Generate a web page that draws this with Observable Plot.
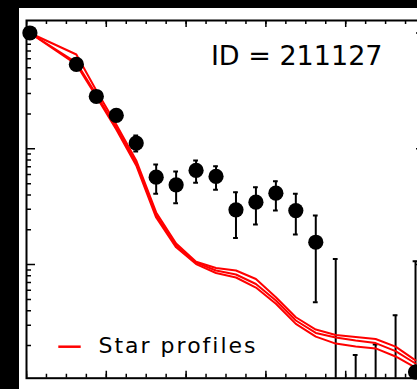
<!DOCTYPE html>
<html>
<head>
<meta charset="utf-8">
<script src="https://cdn.jsdelivr.net/npm/d3@7"></script>
<script src="https://cdn.jsdelivr.net/npm/@observablehq/plot@0.6"></script>
<style>
  html, body { margin: 0; padding: 0; background: #000; width: 417px; height: 389px; overflow: hidden; }
  #panel { position: absolute; left: 19px; top: 8px; width: 398px; height: 381px; overflow: hidden; background: #fff; }
</style>
</head>
<body>
<div id="panel"></div>
<script>
// Radial surface-brightness profile of the source, normalised to the centre
const radius   = [0.17, 2.5, 3.5, 4.5, 5.5, 6.5, 7.5, 8.5, 9.5, 10.5, 11.5, 12.5, 13.5, 14.5, 15.5, 16.5, 17.5, 18.5, 19.5];
const flux     = [1.0, 0.535, 0.283, 0.194, 0.112, 0.0569, 0.0489, 0.0650, 0.0577, 0.0297, 0.0346, 0.0414, 0.0293, 0.0156, 0.0007, 0.0005, 0.0006, 0.0007, 0.00118];
const fluxHigh = [1.0, 0.56, 0.30, 0.205, 0.13, 0.0731, 0.0637, 0.0792, 0.0708, 0.0422, 0.0466, 0.0525, 0.0409, 0.0265, 0.0112, 0.00166, 0.00204, 0.00366, 0.0107];
const fluxLow  = [1.0, 0.51, 0.27, 0.185, 0.095, 0.0409, 0.0339, 0.0509, 0.0443, 0.0170, 0.0222, 0.0293, 0.0182, 0.00473, 0.0002, 0.0002, 0.0002, 0.0002, 0.0002];

// Comparison PSF profiles of three field stars
const starRadius = [0.17, 2.5, 3.5, 4.5, 5.5, 6.5, 7.5, 8.5, 9.5, 10.5, 11.5, 12.5, 13.5, 14.5, 15.5, 16.5, 17.5, 18.5, 19.5];
const starA = [1.0, 0.652, 0.319, 0.162, 0.0793, 0.0282, 0.0152, 0.0106, 0.00935, 0.00889, 0.00751, 0.00523, 0.00351, 0.00275, 0.00247, 0.00237, 0.00228, 0.00196, 0.00149];
const starB = [1.0, 0.556, 0.294, 0.153, 0.0747, 0.0266, 0.0146, 0.0104, 0.00889, 0.00821, 0.00680, 0.00490, 0.00329, 0.00257, 0.00235, 0.00221, 0.00210, 0.00179, 0.00140];
const starC = [1.0, 0.535, 0.283, 0.147, 0.0718, 0.0255, 0.0141, 0.0101, 0.00846, 0.00774, 0.00634, 0.00459, 0.00308, 0.00239, 0.00208, 0.00196, 0.00189, 0.00161, 0.00129];

// Axis ticks (unlabelled, drawn inward on all four sides)
const xMajor = [0, 4, 8, 12, 16, 20];
const xMinor = d3.range(0, 21, 1);
const yMajor = [0.001, 0.01, 0.1, 1];
const yMinor = [0.001, 0.01, 0.1].flatMap(d => [2, 3, 4, 5, 6, 7, 8, 9].map(k => d * k));

const title = "ID = 211127";
const legendLabel = "Star profiles";

const points = radius.map((r, i) => ({r, f: flux[i], hi: fluxHigh[i], lo: fluxLow[i]}));
const stars = [["A", starA], ["B", starB], ["C", starC]].flatMap(([id, ys]) =>
  ys.map((f, i) => ({star: id, r: starRadius[i], f})));

const W = 406, H = 381;
const mL = 7, mT = 12, mR = 0, mB = 11.3;
const FW = W - mL - mR, FH = H - mT - mB;
const yDomain = [0.001045, 1.282];

const tick = (len, side) => side === "top" ? {insetBottom: FH - len}
  : side === "bottom" ? {insetTop: FH - len}
  : side === "left" ? {insetRight: FW - len}
  : {insetLeft: FW - len};
const tickStyle = {stroke: "black", strokeWidth: 1.5, clip: true};

const chart = Plot.plot({
  width: W, height: H,
  marginLeft: mL, marginTop: mT, marginRight: mR, marginBottom: mB,
  style: {maxWidth: "none", background: "white"},
  x: {domain: [0, 20], axis: null},
  y: {type: "log", domain: yDomain, axis: null},
  marks: [
    Plot.ruleX(xMinor, {...tick(4, "top"), ...tickStyle}),
    Plot.ruleX(xMajor, {...tick(7, "top"), ...tickStyle}),
    Plot.ruleX(xMinor, {...tick(4, "bottom"), ...tickStyle}),
    Plot.ruleX(xMajor, {...tick(7, "bottom"), ...tickStyle}),
    Plot.ruleY(yMinor, {...tick(5, "left"), ...tickStyle}),
    Plot.ruleY(yMajor, {...tick(9, "left"), ...tickStyle}),
    Plot.ruleY(yMinor, {...tick(5, "right"), ...tickStyle}),
    Plot.ruleY(yMajor, {...tick(9, "right"), ...tickStyle}),
    Plot.ruleX(points, {x: "r", y1: "lo", y2: "hi", stroke: "black", strokeWidth: 2, clip: true}),
    Plot.ruleY(points.filter(d => d.hi > d.f), {y: "hi", x1: d => d.r - 0.12, x2: d => d.r + 0.12, stroke: "black", strokeWidth: 2, clip: true}),
    Plot.ruleY(points.filter(d => d.lo < d.f), {y: "lo", x1: d => d.r - 0.12, x2: d => d.r + 0.12, stroke: "black", strokeWidth: 2, clip: true}),
    Plot.line(stars, {x: "r", y: "f", z: "star", stroke: "#ff0000", strokeWidth: 2, clip: true}),
    Plot.dot(points, {x: "r", y: "f", r: 7.6, fill: "black", stroke: "none", filter: d => d.f >= yDomain[0]}),
    Plot.frame({stroke: "black", strokeWidth: 2}),
    Plot.text([title], {frameAnchor: "top-left", dx: 184.4, dy: 25.8, lineAnchor: "top", textAnchor: "start",
      fontSize: 27, fontFamily: "DejaVu Sans", fill: "black"})
  ]
});

// Legend inside the lower-left corner of the frame
const legend = d3.select(chart).append("g");
legend.append("line")
  .attr("x1", 39.3).attr("x2", 61.7).attr("y1", 338.7).attr("y2", 338.7)
  .attr("stroke", "#ff0000").attr("stroke-width", 2.5);
legend.append("text")
  .attr("x", 79.5).attr("y", 344.7)
  .attr("text-anchor", "start")
  .attr("font-family", "DejaVu Sans").attr("font-size", 22)
  .attr("letter-spacing", 2).attr("fill", "black")
  .text(legendLabel);

document.getElementById("panel").appendChild(chart);
</script>
</body>
</html>
